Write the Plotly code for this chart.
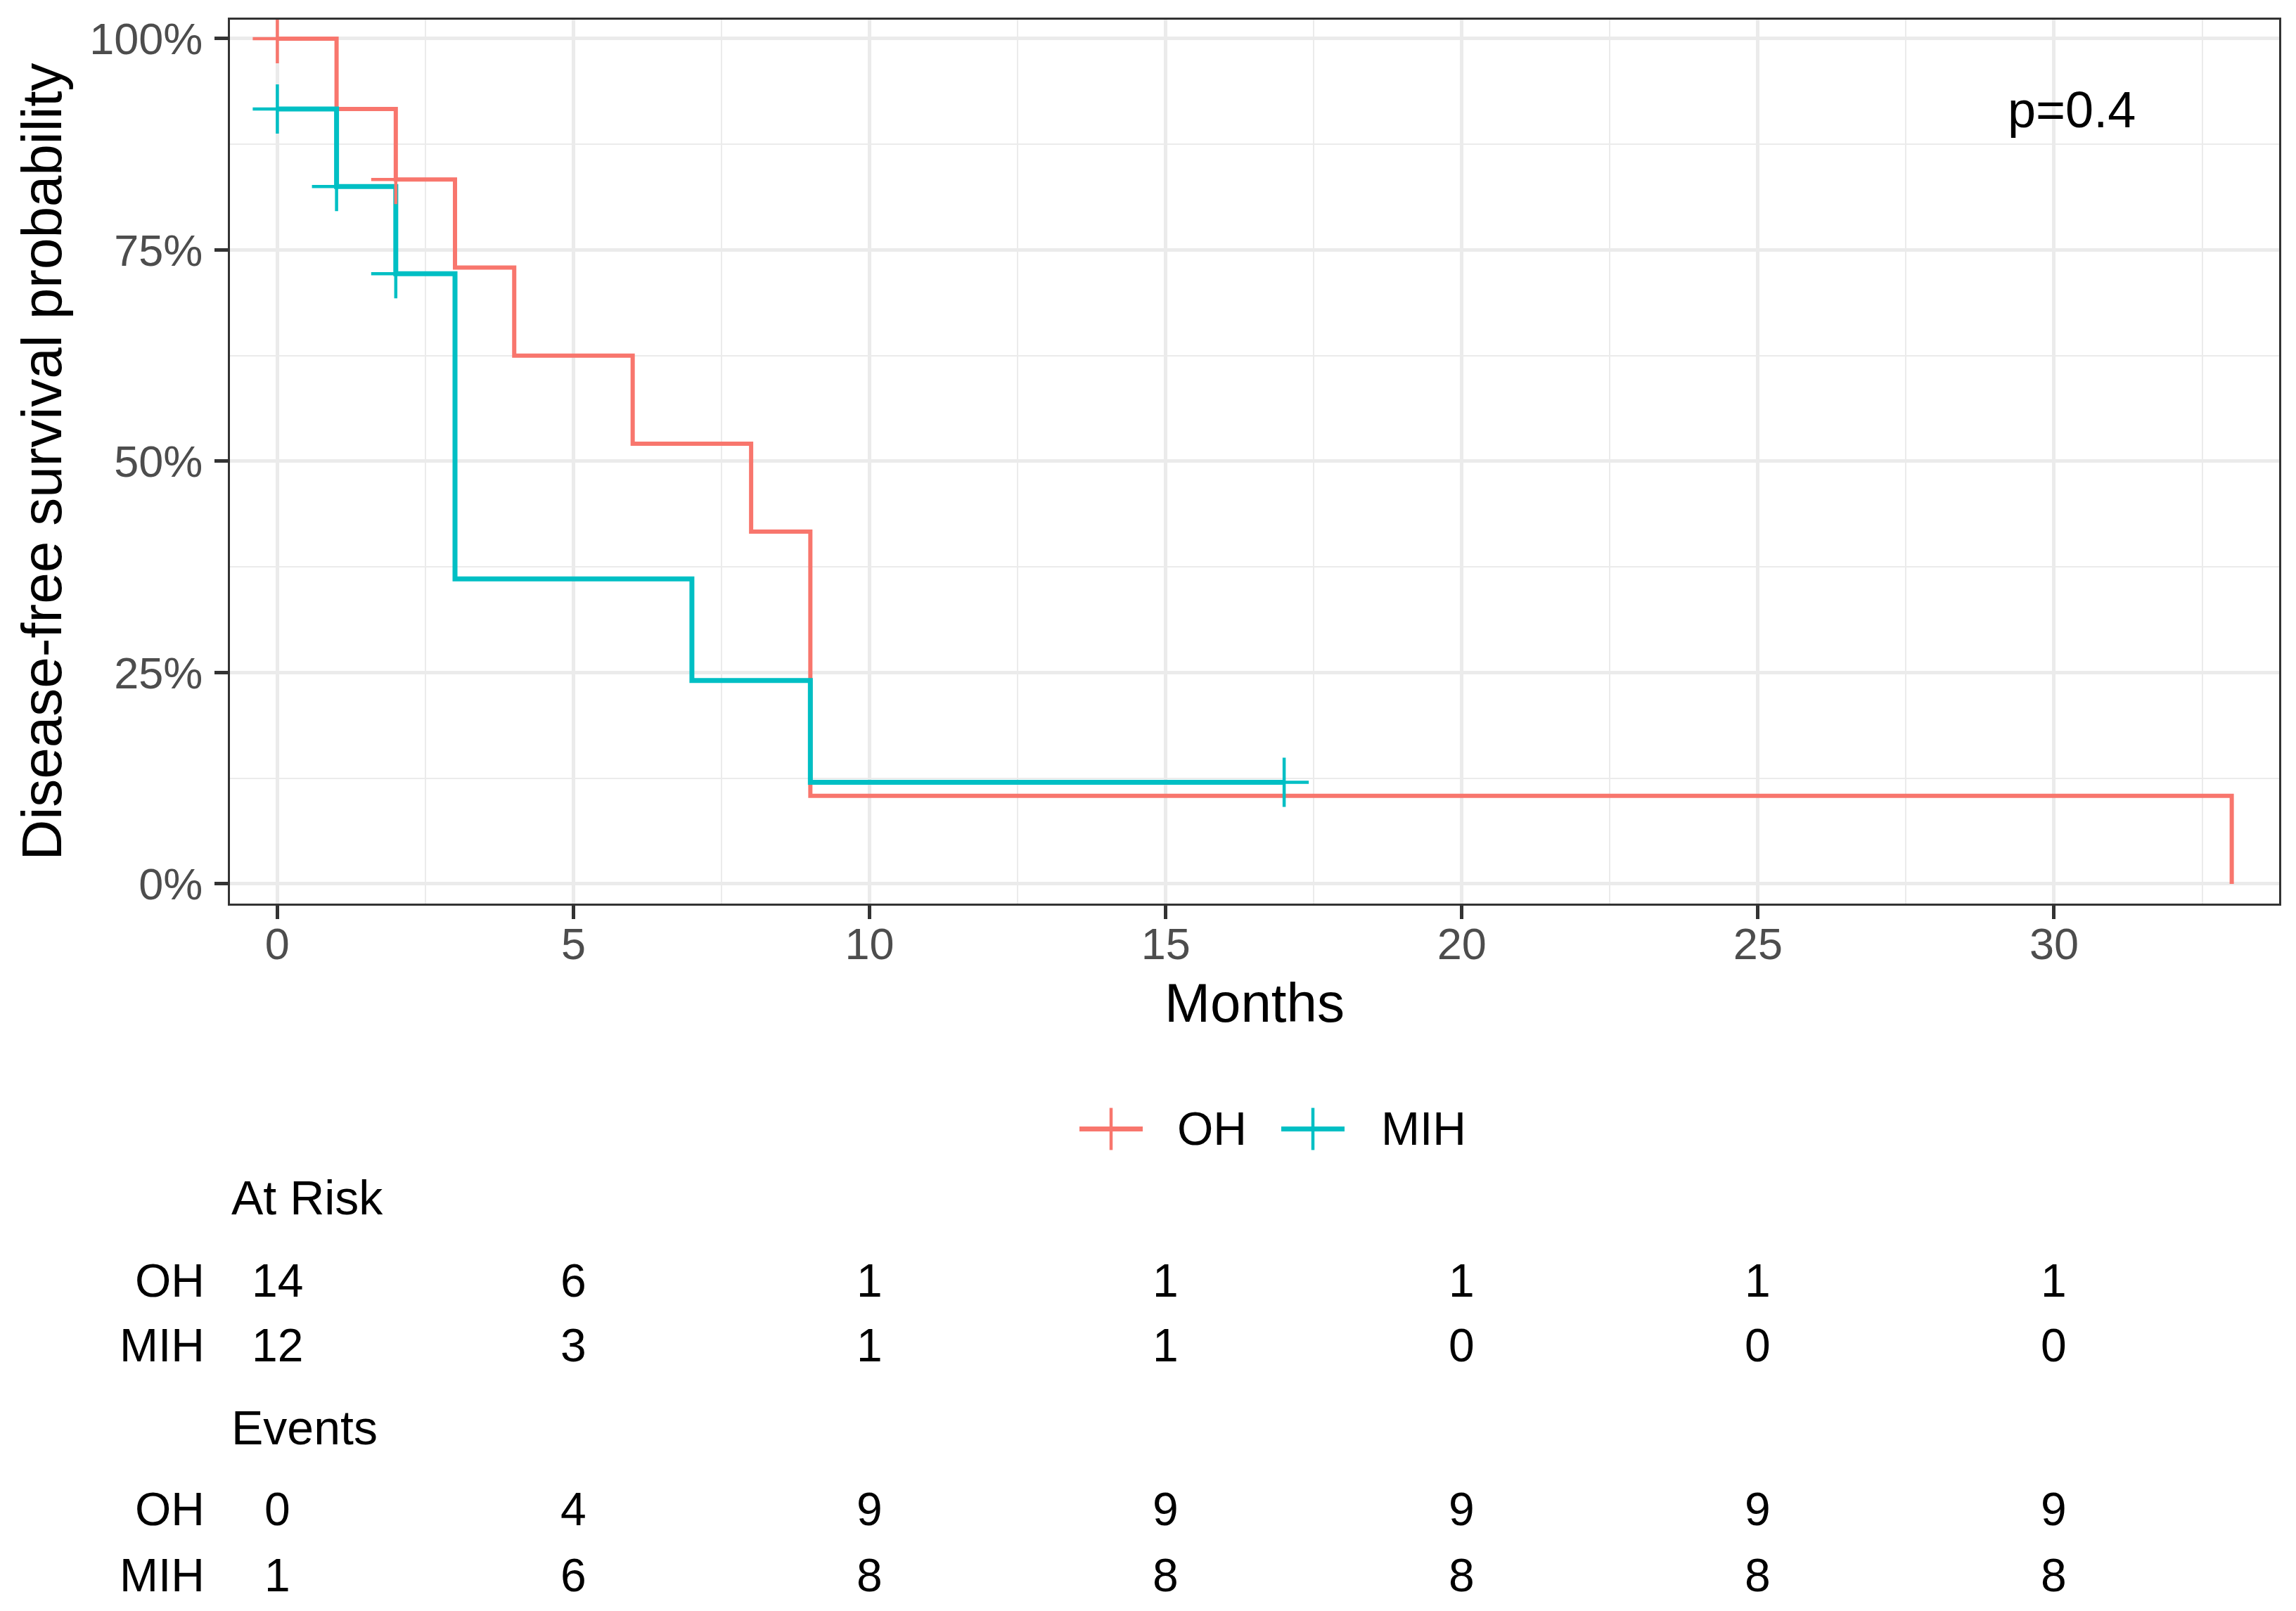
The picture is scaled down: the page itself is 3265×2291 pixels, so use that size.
import plotly.graph_objects as go

# ---------------- data ----------------
oh_time = [0, 1, 2, 3, 4, 6, 8, 9, 33]
oh_surv = [1.0, 0.9167, 0.8333, 0.7292, 0.625, 0.5208, 0.4167, 0.1042, 0.0]
oh_cens_time = [0, 2]
oh_cens_surv = [1.0, 0.8333]

mih_time = [0, 1, 2, 3, 7, 9, 17]
mih_surv = [0.9167, 0.825, 0.7219, 0.3609, 0.2406, 0.1203, 0.1203]
mih_cens_time = [0, 1, 2, 17]
mih_cens_surv = [0.9167, 0.825, 0.7219, 0.1203]

table_times = [0, 5, 10, 15, 20, 25, 30]
group_names = ["OH", "MIH"]
at_risk_oh = [14, 6, 1, 1, 1, 1, 1]
at_risk_mih = [12, 3, 1, 1, 0, 0, 0]
events_oh = [0, 4, 9, 9, 9, 9, 9]
events_mih = [1, 6, 8, 8, 8, 8, 8]
p_label = "p=0.4"
x_title = "Months"
y_title = "Disease-free survival probability"

# ---------------- style / layout ----------------
W, H = 3265, 2291
OFF = 8                              # default page body margin
L, R, T, B = 327, 3241, 26, 1285     # panel edges in the window (px)
RED, TEAL = "#F8766D", "#00BFC4"
FONT = "Liberation Sans, Arial, Helvetica, sans-serif"
GRID = "#EBEBEB"


def px_y(y):
    return (B - y) / (B - T)


def px_x(x):
    return (x - L) / (R - L)


fig = go.Figure()
fig.add_trace(go.Scatter(x=oh_time, y=oh_surv, mode="lines",
                         line=dict(color=RED, width=6, shape="hv"),
                         showlegend=False, name="OH"))
fig.add_trace(go.Scatter(x=mih_time, y=mih_surv, mode="lines",
                         line=dict(color=TEAL, width=7, shape="hv"),
                         showlegend=False, name="MIH"))
fig.add_trace(go.Scatter(x=oh_cens_time, y=oh_cens_surv, mode="markers",
                         marker=dict(symbol="cross-thin", size=50, color=RED,
                                     line=dict(width=4.5, color=RED)),
                         showlegend=False))
fig.add_trace(go.Scatter(x=mih_cens_time, y=mih_cens_surv, mode="markers",
                         marker=dict(symbol="cross-thin", size=50, color=TEAL,
                                     line=dict(width=4.5, color=TEAL)),
                         showlegend=False))

annotations = []
shapes = []

# p-value
annotations.append(dict(x=30.3, y=0.916, xref="x", yref="y", text=p_label,
                        showarrow=False, font=dict(size=72, color="black", family=FONT),
                        xanchor="center", yanchor="middle"))

# manual legend (symbol: line with a vertical tick, then label)
legend_items = [("OH", RED, 1535, 1672), ("MIH", TEAL, 1822, 1962)]
ly = 1606
for name, col, x0, xt in legend_items:
    shapes.append(dict(type="line", xref="paper", yref="paper",
                       x0=px_x(x0), x1=px_x(x0 + 90), y0=px_y(ly), y1=px_y(ly),
                       line=dict(color=col, width=7)))
    shapes.append(dict(type="line", xref="paper", yref="paper",
                       x0=px_x(x0 + 45), x1=px_x(x0 + 45), y0=px_y(ly - 30), y1=px_y(ly + 30),
                       line=dict(color=col, width=4.5)))
    annotations.append(dict(x=px_x(xt), y=px_y(ly), xref="paper", yref="paper",
                            text=name, showarrow=False, xanchor="left", yanchor="middle",
                            font=dict(size=66, color="black", family=FONT)))

# risk table
blocks = [("At Risk", 1704, [(group_names[0], at_risk_oh, 1822), (group_names[1], at_risk_mih, 1914)]),
          ("Events", 2031, [(group_names[0], events_oh, 2147), (group_names[1], events_mih, 2242)])]
for title, ty, rows in blocks:
    annotations.append(dict(x=0, y=px_y(ty), xref="paper", yref="paper", text=title,
                            showarrow=False, xanchor="left", yanchor="middle",
                            font=dict(size=68, color="black", family=FONT)))
    for gname, vals, ry in rows:
        annotations.append(dict(x=px_x(293), y=px_y(ry), xref="paper", yref="paper",
                                text=gname, showarrow=False, xanchor="right", yanchor="middle",
                                font=dict(size=66, color="black", family=FONT)))
        for t, v in zip(table_times, vals):
            annotations.append(dict(x=t, y=px_y(ry), xref="x", yref="paper", text=str(v),
                                    showarrow=False, xanchor="center", yanchor="middle",
                                    font=dict(size=66, color="black", family=FONT)))

axis_common = dict(showgrid=True, gridcolor=GRID, gridwidth=4.5, zeroline=False,
                   ticks="outside", ticklen=19, tickwidth=4.5, tickcolor="#333333",
                   tickfont=dict(size=63, color="#4D4D4D", family=FONT),
                   showline=True, mirror=True, linecolor="#333333", linewidth=3)

fig.update_layout(
    width=W - OFF, height=H - OFF, autosize=False,
    margin=dict(l=L - OFF, r=W - R, t=T - OFF, b=H - B, pad=0),
    paper_bgcolor="white", plot_bgcolor="white",
    font=dict(family=FONT, color="black"),
    showlegend=False,
    xaxis=dict(range=[-0.8, 33.8], tick0=0, dtick=5, ticklabelstandoff=-19,
               minor=dict(dtick=2.5, tick0=0, showgrid=True, gridcolor=GRID, gridwidth=2.2),
               title=dict(text=x_title, font=dict(size=78, color="black", family=FONT), standoff=23),
               **axis_common),
    yaxis=dict(range=[-0.0233, 1.0224], tick0=0, dtick=0.25, tickformat=".0%",
               ticklabelstandoff=4,
               minor=dict(dtick=0.125, tick0=0, showgrid=True, gridcolor=GRID, gridwidth=2.2),
               title=dict(text=y_title, font=dict(size=80, color="black", family=FONT), standoff=14),
               **axis_common),
    annotations=annotations,
    shapes=shapes,
)

fig.write_html("out.html")
